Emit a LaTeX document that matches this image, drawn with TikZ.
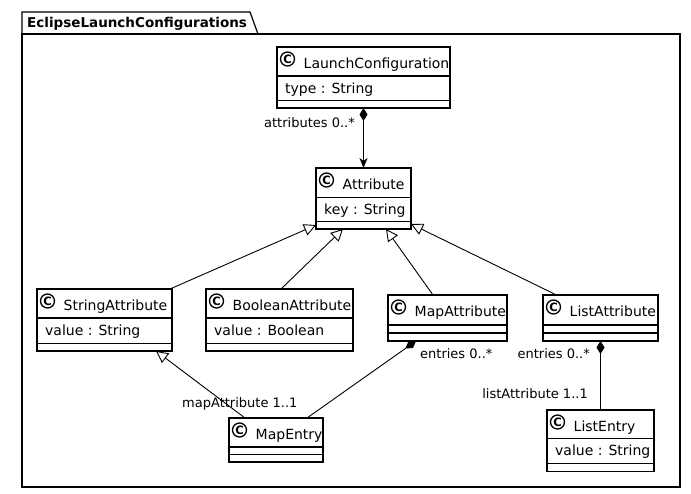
\documentclass[tikz,border=0pt]{standalone}
\usepackage{fontspec}
\setmainfont{DejaVu Sans}
\usetikzlibrary{arrows.meta,calc}

\tikzset{
 classbox/.style={draw, line width=1.2pt, inner sep=0pt, outer sep=0pt, anchor=north west, fill=white},
 sepline/.style={line width=1.2pt},
 ctitle/.style={anchor=base west, inner sep=0pt, font=\fontsize{14}{16}\selectfont},
 cattr/.style={anchor=base west, inner sep=0pt, font=\fontsize{14}{16}\selectfont},
 cicon/.style={circle, draw, line width=1.3pt, inner sep=0pt, minimum size=14pt, font=\bfseries\fontsize{11.5}{11.5}\selectfont},
 lbl/.style={anchor=base west, inner sep=0pt, font=\fontsize{13}{15}\selectfont},
 conn/.style={line width=0.9pt},
 gen/.style={conn, -{Triangle[open, length=12pt, width=12pt, line width=0.9pt]}},
 comp/.style={conn, {Diamond[length=13pt,width=8pt]}-},
 compnav/.style={conn, {Diamond[length=13pt,width=8pt]}-{Stealth[length=10pt,width=8pt,inset=3pt]}},
 pkg/.style={line width=1.2pt},
}

\newcommand{\umlclass}[9]{%
  \node[classbox, minimum width={(#4-#2)*1pt}, minimum height={(#5-#3)*1pt}] (#1) at (#2,#3) {};
  \draw[sepline] (#2,#6) -- (#4,#6);
  \draw[sepline] (#2,#7) -- (#4,#7);
  \node[cicon] (#1-icon) at (#2+10.5,#3+12) {C};
  \node[ctitle] (#1-name) at (#2+26.5,#3+21) {#8};
  \node[cattr] (#1-attr) at (#2+8,#6+17) {#9};
}

\begin{document}
\begin{tikzpicture}[x=1pt,y=-1pt]
\fill[white] (0,0) rectangle (691,493);
\useasboundingbox (0,0) rectangle (691,493);

% package
\draw[pkg] (22,34) -- (22,12) -- (250,12) -- (258,34);
\draw[pkg] (22,34) rectangle (680,487);
\node[anchor=base west, inner sep=0pt, font=\bfseries\fontsize{13.5}{16}\selectfont] (pkgname) at (27,27) {EclipseLaunchConfigurations};

% classes
\umlclass{lc}{277}{47}{450}{108}{76}{100.5}{LaunchConfiguration}{type : String}
\umlclass{attr}{316}{168}{411}{229}{197.5}{221.5}{Attribute}{key : String}
\umlclass{sa}{37}{289}{172}{351}{318}{343.5}{StringAttribute}{value : String}
\umlclass{ba}{206}{289}{353}{351}{318}{343.5}{BooleanAttribute}{value : Boolean}
\umlclass{ma}{388}{295}{507}{341}{325}{333}{MapAttribute}{}
\umlclass{la}{543}{295}{658}{341}{325}{333}{ListAttribute}{}
\umlclass{me}{229}{418}{323}{462}{447}{454.5}{MapEntry}{}
\umlclass{le}{547}{410}{654}{471.5}{438.5}{463.5}{ListEntry}{value : String}

% connectors
\draw[compnav] (lc.south) -- (attr.north);
\draw[gen] ($(sa.north east)+(-2,0)$) -- ($(attr.south west)+(0,-4)$);
\draw[gen] ($(ba.north)+(1.5,0)$) -- ($(attr.south west)+(27,0)$);
\draw[gen] ($(ma.north)+(-14.5,0)$) -- ($(attr.south east)+(-25,0)$);
\draw[gen] ($(la.north)+(-44,0)$) -- ($(attr.south east)+(0,-5)$);
\draw[gen] ($(me.north)+(-31,0)$) -- ($(sa.south)+(51.5,0)$);
\draw[comp] ($(ma.south)+(-31.5,0)$) -- ($(me.north)+(31,0)$);
\draw[comp] (la.south) -- (le.north);

% labels
\node[lbl, anchor=base east] (l1) at (355,127) {attributes 0..*};
\node[lbl] (l2) at (420,358) {entries 0..*};
\node[lbl, anchor=base east] (l3) at (590,358) {entries 0..*};
\node[lbl] (l4) at (182,407) {mapAttribute 1..1};
\node[lbl, anchor=base east] (l5) at (588,398) {listAttribute 1..1};
\end{tikzpicture}
\end{document}
